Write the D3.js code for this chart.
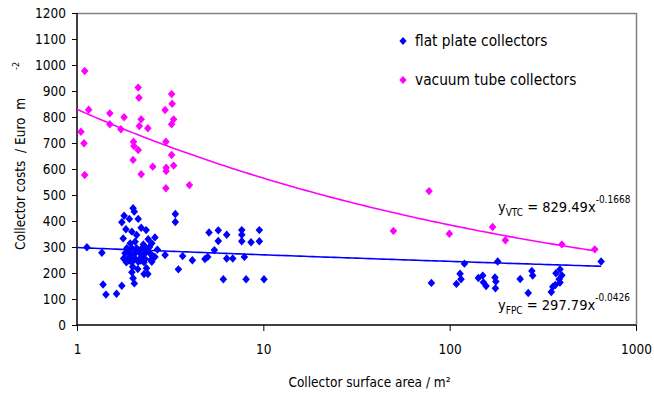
<!DOCTYPE html>
<html>
<head>
<meta charset="utf-8">
<script src="https://cdn.jsdelivr.net/npm/d3@7"></script>
<style>
  html, body { margin: 0; padding: 0; background: #fff; }
  svg { display: block; }
  text { font-family: "DejaVu Sans Condensed", "DejaVu Sans", sans-serif; fill: #000; }
</style>
</head>
<body>
<div id="chart"></div>
<script>
// ---- data ----
const xTickValues = [1, 10, 100, 1000];
const xTickLabels = ["1", "10", "100", "1000"];
const yTickValues = [0, 100, 200, 300, 400, 500, 600, 700, 800, 900, 1000, 1100, 1200];

const seriesNames = ["flat plate collectors", "vacuum tube collectors"];
const seriesColors = ["#0000FF", "#FF00FF"];

// flat plate collectors (FPC): area (m²), cost (Euro/m²)
const fpcArea = [
  1.13, 1.36, 1.38, 1.43, 1.63, 1.74,
  2.00, 2.03, 1.79, 1.91, 2.13, 1.74, 2.21, 2.35, 1.83, 1.97, 2.09, 2.62, 2.41, 1.77, 1.93, 2.05, 2.52, 2.27,
  1.85, 1.97, 2.09, 2.23, 2.36,
  1.81, 1.93, 2.05, 2.18, 2.32, 2.46,
  1.78, 1.89, 2.05, 2.18, 2.32, 2.49, 2.62,
  1.84, 1.97, 2.13, 2.29, 2.52,
  1.99, 2.12, 2.36, 1.97, 2.29, 2.40, 2.00, 2.03,
  1.88, 2.15, 2.40, 1.95, 2.25, 2.55, 1.90, 2.20, 2.45, 2.70,
  2.97, 3.37, 3.37, 3.50, 3.69, 4.16, 4.86, 5.03, 5.11, 5.73, 6.36, 5.73, 7.66, 7.66, 7.66, 8.59, 9.52, 9.52,
  5.46, 6.36, 6.85, 7.91, 6.10, 8.08, 10.08,
  79.8, 113.7, 115, 108.7, 120, 142.6, 150.5, 151.7, 156.8, 175, 177, 176, 181, 239, 276, 279, 264,
  372, 391, 400, 387, 391, 369, 358, 351, 650
];
const fpcCost = [
  299, 278, 156, 117, 120, 151,
  449, 436, 420, 408, 408, 395, 374, 365, 368, 359, 346, 337, 330, 333, 314, 320, 314, 310,
  295, 295, 295, 295, 295,
  276, 276, 276, 276, 276, 276,
  256, 258, 256, 256, 254, 250, 262,
  241, 241, 243, 241, 243,
  224, 215, 218, 203, 196, 196, 180, 160,
  285, 285, 286, 268, 266, 266, 248, 248, 300, 290,
  269, 427, 396, 214, 265, 249, 254, 262, 356, 364, 347, 323, 365, 347, 322, 318, 365, 322,
  288, 256, 256, 262, 176, 176, 176,
  162, 197, 176, 158, 236, 181, 190, 164, 150, 183, 167, 141, 244, 177, 208, 190, 123,
  199, 214, 191, 176, 163, 154, 147, 127, 244
];

// vacuum tube collectors (VTC)
const vtcArea = [
  1.10, 1.155, 1.05, 1.09, 1.10, 1.50, 1.50, 1.79, 1.72, 2.13, 2.15, 2.21, 2.16, 2.40, 2.01, 2.02, 2.13, 2.00,
  2.21, 2.55, 2.97, 3.22, 3.24, 3.30, 3.22, 3.00, 3.22, 3.30, 3.01, 3.01, 3.00, 4.01,
  49.9, 77.5, 99.6, 170, 199, 400, 601
];
const vtcCost = [
  977, 828, 743, 699, 577, 814, 772, 799, 753, 913, 874, 791, 765, 757, 705, 688, 673, 635,
  580, 609, 827, 888, 851, 791, 772, 705, 654, 613, 605, 592, 526, 538,
  362, 515, 351, 377, 326, 310, 291
];

// power-law trend lines y = a * x^b
const fpcFit = { a: 297.79, b: -0.0426, xMin: 1, xMax: 650 };
const vtcFit = { a: 829.49, b: -0.1668, xMin: 1, xMax: 600 };

// ---- chart ----
const W = 654, H = 398;
const pLeft = 77, pRight = 636, pTop = 13, pBottom = 325;

const svg = d3.select("#chart").append("svg").attr("width", W).attr("height", H);

const x = d3.scaleLog().domain([1, 1000]).range([pLeft, pRight]);
const y = d3.scaleLinear().domain([0, 1200]).range([pBottom, pTop]);

// plot frame (top & right grey)
svg.append("path")
  .attr("d", `M${pLeft},${pTop + 0.5}H${pRight + 0.5}V${pBottom}`)
  .attr("fill", "none").attr("stroke", "#808080").attr("stroke-width", 1.5);

// axes
const fs = 13.5;
const yAxis = svg.append("g").attr("transform", `translate(${pLeft},0)`)
  .call(d3.axisLeft(y).tickValues(yTickValues).tickSize(5).tickPadding(6).tickFormat(d3.format("d")));
const xAxis = svg.append("g").attr("transform", `translate(0,${pBottom})`)
  .call(d3.axisBottom(x).tickValues(xTickValues).tickSize(6).tickPadding(13)
    .tickFormat((d, i) => xTickLabels[i]));
[xAxis, yAxis].forEach(g => {
  g.select(".domain").attr("stroke", "#000").attr("stroke-width", 1.5);
  g.selectAll(".tick line").attr("stroke", "#000");
  g.selectAll("text").attr("font-family", "DejaVu Sans Condensed, DejaVu Sans, sans-serif")
    .attr("font-size", fs).attr("fill", "#000");
});
yAxis.select(".domain").attr("d", `M0,${pBottom}V${pTop}`);
xAxis.select(".domain").attr("d", `M${pLeft},0H${pRight}`);

// axis titles
svg.append("text")
  .attr("x", (pLeft + pRight) / 2 + 13).attr("y", 387)
  .attr("text-anchor", "middle").attr("font-size", fs)
  .text("Collector surface area / m²");

const yt = svg.append("g").attr("transform", "translate(25,250) rotate(-90)");
yt.append("text").attr("x", 0).attr("y", 0).attr("font-size", fs)
  .style("white-space", "pre").attr("xml:space", "preserve")
  .text("Collector costs  / Euro  m");
yt.append("text").attr("x", 180).attr("y", -6).attr("font-size", 9)
  .text("-2");

// trend lines
function fitPoints(f) {
  const n = 120, out = [];
  const l0 = Math.log10(f.xMin), l1 = Math.log10(f.xMax);
  for (let i = 0; i <= n; i++) {
    const xv = Math.pow(10, l0 + (l1 - l0) * i / n);
    out.push([xv, f.a * Math.pow(xv, f.b)]);
  }
  return out;
}
const line = d3.line().x(d => x(d[0])).y(d => y(d[1]));
[[vtcFit, seriesColors[1]], [fpcFit, seriesColors[0]]].forEach(([f, c]) => {
  svg.append("path").attr("d", line(fitPoints(f)))
    .attr("fill", "none").attr("stroke", c).attr("stroke-width", 1.6);
});

// markers
const diamond = (cx, cy, r) => `M${cx},${cy - r}L${cx + r * 0.9},${cy}L${cx},${cy + r}L${cx - r * 0.9},${cy}Z`;
function drawSeries(xs, ys, color) {
  svg.append("g").selectAll("path").data(xs.map((d, i) => [d, ys[i]])).join("path")
    .attr("d", d => diamond(x(d[0]), y(d[1]), 4.2))
    .attr("fill", color);
}
drawSeries(vtcArea, vtcCost, seriesColors[1]);
drawSeries(fpcArea, fpcCost, seriesColors[0]);

// legend
const legY = [41, 80];
seriesNames.forEach((name, i) => {
  svg.append("path").attr("d", diamond(403, legY[i], 4)).attr("fill", seriesColors[i]);
  svg.append("text").attr("x", 415).attr("y", legY[i] + 5).attr("font-size", 15.3).text(name);
});

// equations
function equation(xp, yp, sub, coef, exp) {
  const t = svg.append("text").attr("x", xp).attr("y", yp).attr("font-size", 14.5);
  t.append("tspan").text("y");
  t.append("tspan").attr("font-size", 10).attr("dy", 4).text(sub);
  t.append("tspan").attr("dy", -4).text(" = " + coef + "x");
  t.append("tspan").attr("font-size", 10).attr("dy", -9).text(exp);
}
equation(498, 212, "VTC", "829.49", "-0.1668");
equation(498, 310, "FPC", "297.79", "-0.0426");
</script>
</body>
</html>
